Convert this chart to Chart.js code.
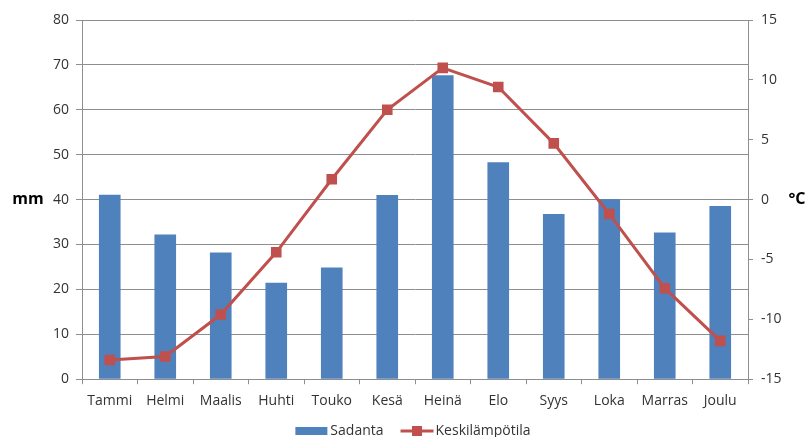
<!DOCTYPE html>
<html>
<head>
<meta charset="utf-8">
<script src="https://cdn.jsdelivr.net/npm/chart.js@4.4.1/dist/chart.umd.min.js"></script>
<style>
  html, body { margin: 0; padding: 0; background: #fff; }
  #wrap { width: 811px; height: 437px; }
</style>
</head>
<body>
<div id="wrap"><canvas id="c" width="811" height="437"></canvas></div>
<script>
// Kuukaudet
const months = ['Tammi', 'Helmi', 'Maalis', 'Huhti', 'Touko', 'Kesä', 'Heinä', 'Elo', 'Syys', 'Loka', 'Marras', 'Joulu'];
// Sadanta (mm)
const sadanta = [41.1, 32.2, 28.2, 21.5, 24.9, 41.0, 67.7, 48.3, 36.8, 40.1, 32.7, 38.6];
// Keskilämpötila (°C)
const keskilampotila = [-13.4, -13.1, -9.6, -4.4, 1.7, 7.5, 11.0, 9.4, 4.7, -1.2, -7.4, -11.8];

const BAR = '#4F81BD';
const LINE = '#C0504D';
const GRID = '#8E8E8E';
const TEXT = '#333333';
const FONT = "'Open Sans', 'DejaVu Sans', sans-serif";
const FONT_SIZE = 14;

// Pystyakselien otsikot vaakasuoraan sekä selite kaavion alle
const extras = {
  id: 'extras',
  afterDraw(chart) {
    const { ctx, chartArea } = chart;
    const mid = (chartArea.top + chartArea.bottom) / 2;
    ctx.save();
    ctx.fillStyle = '#000';
    ctx.font = 'bold 16px ' + FONT;
    ctx.textAlign = 'center';
    ctx.textBaseline = 'middle';
    ctx.fillText('mm', chartArea.left - 54, mid);
    ctx.fillText('°C', chartArea.right + 49, mid);

    // Selite
    const items = chart.data.datasets.slice().reverse();
    ctx.font = FONT_SIZE + 'px ' + FONT;
    ctx.textAlign = 'left';
    const sw = 33, gapText = 2, gapItem = 17;
    const widths = items.map(d => ctx.measureText(d.label).width);
    const total = items.length * (sw + gapText) + widths.reduce((a, b) => a + b, 0) + gapItem * (items.length - 1);
    let x = (chartArea.left + chartArea.right) / 2 - 2 - total / 2;
    const y = 431;
    items.forEach((d, i) => {
      if (d.type === 'bar') {
        ctx.fillStyle = d.backgroundColor;
        ctx.fillRect(x, y - 4, 32, 8);
      } else {
        ctx.strokeStyle = d.borderColor;
        ctx.lineWidth = 3;
        ctx.beginPath(); ctx.moveTo(x, y); ctx.lineTo(x + sw, y); ctx.stroke();
        ctx.fillStyle = d.borderColor;
        ctx.fillRect(x + sw / 2 - 5, y - 5, 10, 10);
      }
      ctx.fillStyle = TEXT;
      ctx.fillText(d.label, x + sw + gapText, y);
      x += sw + gapText + widths[i] + gapItem;
    });
    ctx.restore();
  }
};

new Chart(document.getElementById('c'), {
  type: 'bar',
  data: {
    labels: months,
    datasets: [
      {
        type: 'line',
        label: 'Keskilämpötila',
        data: keskilampotila,
        yAxisID: 'yT',
        borderColor: LINE,
        backgroundColor: LINE,
        borderWidth: 3,
        pointStyle: 'rect',
        pointRadius: 7.5,
        pointBorderWidth: 0,
        pointBackgroundColor: LINE,
        tension: 0,
        order: 0
      },
      {
        type: 'bar',
        label: 'Sadanta',
        data: sadanta,
        yAxisID: 'yP',
        backgroundColor: BAR,
        borderWidth: 0,
        barPercentage: 0.78,
        categoryPercentage: 0.5,
        order: 1
      }
    ]
  },
  options: {
    responsive: false,
    animation: false,
    layout: { padding: { top: 20, bottom: 20, left: 0, right: 0 } },
    plugins: {
      tooltip: { enabled: false },
      legend: { display: false }
    },
    scales: {
      x: {
        grid: { display: true, drawOnChartArea: false, drawTicks: true, tickLength: 5, color: GRID, offset: true },
        border: { color: GRID },
        ticks: { font: { family: FONT, size: FONT_SIZE }, color: TEXT, padding: 8, maxRotation: 0 }
      },
      yP: {
        position: 'left',
        min: 0, max: 80,
        afterFit(s) { s.width = 82; },
        grid: { color: GRID, tickLength: 6, drawTicks: true },
        border: { color: GRID },
        ticks: { stepSize: 10, font: { family: FONT, size: FONT_SIZE }, color: TEXT, padding: 7 }
      },
      yT: {
        position: 'right',
        min: -15, max: 15,
        afterFit(s) { s.width = 63; },
        grid: { drawOnChartArea: false, color: GRID, tickLength: 5 },
        border: { color: GRID },
        ticks: { stepSize: 5, font: { family: FONT, size: FONT_SIZE }, color: TEXT, padding: 8 }
      }
    }
  },
  plugins: [extras]
});
</script>
</body>
</html>
